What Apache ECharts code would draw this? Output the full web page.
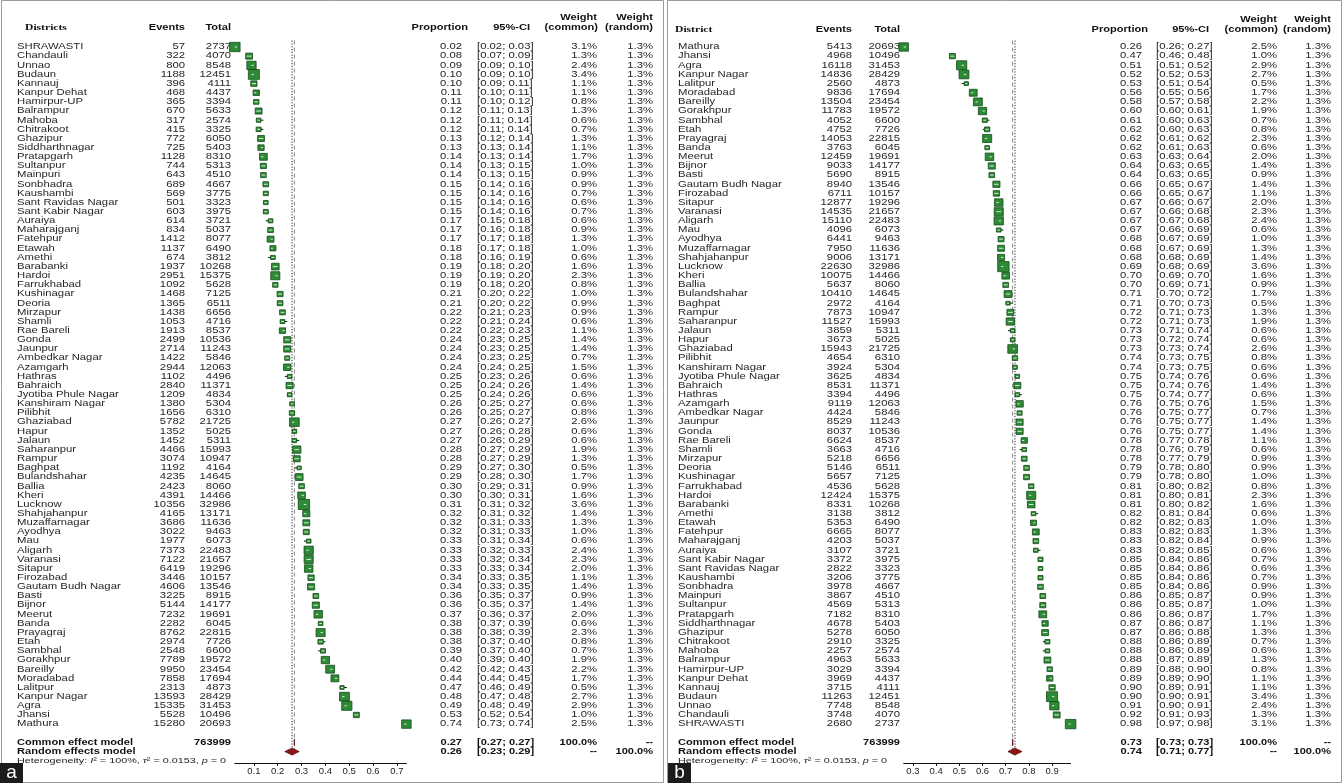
<!DOCTYPE html>
<html><head><meta charset="utf-8">
<script src="https://cdn.jsdelivr.net/npm/echarts@6.0.0/dist/echarts.min.js"></script>
<style>html,body{margin:0;padding:0;background:#fff}#c{width:1343px;height:783px}</style>
</head><body><div id="c"></div>
<script>
// ---------- Panel a data ----------
const leftDistricts = ["SHRAWASTI","Chandauli","Unnao","Budaun","Kannauj","Kanpur Dehat","Hamirpur-UP","Balrampur","Mahoba","Chitrakoot","Ghazipur","Siddharthnagar","Pratapgarh","Sultanpur","Mainpuri","Sonbhadra","Kaushambi","Sant Ravidas Nagar","Sant Kabir Nagar","Auraiya","Maharajganj","Fatehpur","Etawah","Amethi","Barabanki","Hardoi","Farrukhabad","Kushinagar","Deoria","Mirzapur","Shamli","Rae Bareli","Gonda","Jaunpur","Ambedkar Nagar","Azamgarh","Hathras","Bahraich","Jyotiba Phule Nagar","Kanshiram Nagar","Pilibhit","Ghaziabad","Hapur","Jalaun","Saharanpur","Rampur","Baghpat","Bulandshahar","Ballia","Kheri","Lucknow","Shahjahanpur","Muzaffarnagar","Ayodhya","Mau","Aligarh","Varanasi","Sitapur","Firozabad","Gautam Budh Nagar","Basti","Bijnor","Meerut","Banda","Prayagraj","Etah","Sambhal","Gorakhpur","Bareilly","Moradabad","Lalitpur","Kanpur Nagar","Agra","Jhansi","Mathura"];
const leftEvents = [57,322,800,1188,396,468,365,670,317,415,772,725,1128,744,643,689,569,501,603,614,834,1412,1137,674,1937,2951,1092,1468,1365,1438,1053,1913,2499,2714,1422,2944,1102,2840,1209,1380,1656,5782,1352,1452,4466,3074,1192,4235,2423,4391,10356,4165,3686,3022,1977,7373,7122,6419,3446,4606,3225,5144,7232,2282,8762,2974,2548,7789,9950,7858,2313,13593,15335,5528,15280];
const leftTotals = [2737,4070,8548,12451,4111,4437,3394,5633,2574,3325,6050,5403,8310,5313,4510,4667,3775,3323,3975,3721,5037,8077,6490,3812,10268,15375,5628,7125,6511,6656,4716,8537,10536,11243,5846,12063,4496,11371,4834,5304,6310,21725,5025,5311,15993,10947,4164,14645,8060,14466,32986,13171,11636,9463,6073,22483,21657,19296,10157,13546,8915,14177,19691,6045,22815,7726,6600,19572,23454,17694,4873,28429,31453,10496,20693];
const leftProp = [0.02,0.08,0.09,0.10,0.10,0.11,0.11,0.12,0.12,0.12,0.13,0.13,0.14,0.14,0.14,0.15,0.15,0.15,0.15,0.17,0.17,0.17,0.18,0.18,0.19,0.19,0.19,0.21,0.21,0.22,0.22,0.22,0.24,0.24,0.24,0.24,0.25,0.25,0.25,0.26,0.26,0.27,0.27,0.27,0.28,0.28,0.29,0.29,0.30,0.30,0.31,0.32,0.32,0.32,0.33,0.33,0.33,0.33,0.34,0.34,0.36,0.36,0.37,0.38,0.38,0.38,0.39,0.40,0.42,0.44,0.47,0.48,0.49,0.53,0.74];
const leftLo = [0.02,0.07,0.09,0.09,0.09,0.10,0.10,0.11,0.11,0.11,0.12,0.13,0.13,0.13,0.13,0.14,0.14,0.14,0.14,0.15,0.16,0.17,0.17,0.16,0.18,0.19,0.18,0.20,0.20,0.21,0.21,0.22,0.23,0.23,0.23,0.24,0.23,0.24,0.24,0.25,0.25,0.26,0.26,0.26,0.27,0.27,0.27,0.28,0.29,0.30,0.31,0.31,0.31,0.31,0.31,0.32,0.32,0.33,0.33,0.33,0.35,0.35,0.36,0.37,0.38,0.37,0.37,0.39,0.42,0.44,0.46,0.47,0.48,0.52,0.73];
const leftHi = [0.03,0.09,0.10,0.10,0.11,0.11,0.12,0.13,0.14,0.14,0.14,0.14,0.14,0.15,0.15,0.16,0.16,0.16,0.16,0.18,0.18,0.18,0.18,0.19,0.20,0.20,0.20,0.22,0.22,0.23,0.24,0.23,0.25,0.25,0.25,0.25,0.26,0.26,0.26,0.27,0.27,0.27,0.28,0.29,0.29,0.29,0.30,0.30,0.31,0.31,0.32,0.32,0.33,0.33,0.34,0.33,0.34,0.34,0.35,0.35,0.37,0.37,0.37,0.39,0.39,0.40,0.40,0.40,0.43,0.45,0.49,0.48,0.49,0.54,0.74];
const leftWCommon = [3.1,1.3,2.4,3.4,1.1,1.1,0.8,1.3,0.6,0.7,1.3,1.1,1.7,1.0,0.9,0.9,0.7,0.6,0.7,0.6,0.9,1.3,1.0,0.6,1.6,2.3,0.8,1.0,0.9,0.9,0.6,1.1,1.4,1.4,0.7,1.5,0.6,1.4,0.6,0.6,0.8,2.6,0.6,0.6,1.9,1.3,0.5,1.7,0.9,1.6,3.6,1.4,1.3,1.0,0.6,2.4,2.3,2.0,1.1,1.4,0.9,1.4,2.0,0.6,2.3,0.8,0.7,1.9,2.2,1.7,0.5,2.7,2.9,1.0,2.5];
const leftWRandom = [1.3,1.3,1.3,1.3,1.3,1.3,1.3,1.3,1.3,1.3,1.3,1.3,1.3,1.3,1.3,1.3,1.3,1.3,1.3,1.3,1.3,1.3,1.3,1.3,1.3,1.3,1.3,1.3,1.3,1.3,1.3,1.3,1.3,1.3,1.3,1.3,1.3,1.3,1.3,1.3,1.3,1.3,1.3,1.3,1.3,1.3,1.3,1.3,1.3,1.3,1.3,1.3,1.3,1.3,1.3,1.3,1.3,1.3,1.3,1.3,1.3,1.3,1.3,1.3,1.3,1.3,1.3,1.3,1.3,1.3,1.3,1.3,1.3,1.3,1.3];
const leftSummaryEst = [0.27, 0.26];
const leftSummaryLo = [0.27, 0.23];
const leftSummaryHi = [0.27, 0.29];
const leftTicks = [0.1, 0.2, 0.3, 0.4, 0.5, 0.6, 0.7];

// ---------- Panel b data ----------
const rightDistricts = ["Mathura","Jhansi","Agra","Kanpur Nagar","Lalitpur","Moradabad","Bareilly","Gorakhpur","Sambhal","Etah","Prayagraj","Banda","Meerut","Bijnor","Basti","Gautam Budh Nagar","Firozabad","Sitapur","Varanasi","Aligarh","Mau","Ayodhya","Muzaffarnagar","Shahjahanpur","Lucknow","Kheri","Ballia","Bulandshahar","Baghpat","Rampur","Saharanpur","Jalaun","Hapur","Ghaziabad","Pilibhit","Kanshiram Nagar","Jyotiba Phule Nagar","Bahraich","Hathras","Azamgarh","Ambedkar Nagar","Jaunpur","Gonda","Rae Bareli","Shamli","Mirzapur","Deoria","Kushinagar","Farrukhabad","Hardoi","Barabanki","Amethi","Etawah","Fatehpur","Maharajganj","Auraiya","Sant Kabir Nagar","Sant Ravidas Nagar","Kaushambi","Sonbhadra","Mainpuri","Sultanpur","Pratapgarh","Siddharthnagar","Ghazipur","Chitrakoot","Mahoba","Balrampur","Hamirpur-UP","Kanpur Dehat","Kannauj","Budaun","Unnao","Chandauli","SHRAWASTI"];
const rightEvents = [5413,4968,16118,14836,2560,9836,13504,11783,4052,4752,14053,3763,12459,9033,5690,8940,6711,12877,14535,15110,4096,6441,7950,9006,22630,10075,5637,10410,2972,7873,11527,3859,3673,15943,4654,3924,3625,8531,3394,9119,4424,8529,8037,6624,3663,5218,5146,5657,4536,12424,8331,3138,5353,6665,4203,3107,3372,2822,3206,3978,3867,4569,7182,4678,5278,2910,2257,4963,3029,3969,3715,11263,7748,3748,2680];
const rightTotals = [20693,10496,31453,28429,4873,17694,23454,19572,6600,7726,22815,6045,19691,14177,8915,13546,10157,19296,21657,22483,6073,9463,11636,13171,32986,14466,8060,14645,4164,10947,15993,5311,5025,21725,6310,5304,4834,11371,4496,12063,5846,11243,10536,8537,4716,6656,6511,7125,5628,15375,10268,3812,6490,8077,5037,3721,3975,3323,3775,4667,4510,5313,8310,5403,6050,3325,2574,5633,3394,4437,4111,12451,8548,4070,2737];
const rightProp = [0.26,0.47,0.51,0.52,0.53,0.56,0.58,0.60,0.61,0.62,0.62,0.62,0.63,0.64,0.64,0.66,0.66,0.67,0.67,0.67,0.67,0.68,0.68,0.68,0.69,0.70,0.70,0.71,0.71,0.72,0.72,0.73,0.73,0.73,0.74,0.74,0.75,0.75,0.75,0.76,0.76,0.76,0.76,0.78,0.78,0.78,0.79,0.79,0.81,0.81,0.81,0.82,0.82,0.83,0.83,0.83,0.85,0.85,0.85,0.85,0.86,0.86,0.86,0.87,0.87,0.88,0.88,0.88,0.89,0.89,0.90,0.90,0.91,0.92,0.98];
const rightLo = [0.26,0.46,0.51,0.52,0.51,0.55,0.57,0.60,0.60,0.60,0.61,0.61,0.63,0.63,0.63,0.65,0.65,0.66,0.66,0.67,0.66,0.67,0.67,0.68,0.68,0.69,0.69,0.70,0.70,0.71,0.71,0.71,0.72,0.73,0.73,0.73,0.74,0.74,0.74,0.75,0.75,0.75,0.75,0.77,0.76,0.77,0.78,0.78,0.80,0.80,0.80,0.81,0.82,0.82,0.82,0.82,0.84,0.84,0.84,0.84,0.85,0.85,0.86,0.86,0.86,0.86,0.86,0.87,0.88,0.89,0.89,0.90,0.90,0.91,0.97];
const rightHi = [0.27,0.48,0.52,0.53,0.54,0.56,0.58,0.61,0.63,0.63,0.62,0.63,0.64,0.65,0.65,0.67,0.67,0.67,0.68,0.68,0.69,0.69,0.69,0.69,0.69,0.70,0.71,0.72,0.73,0.73,0.73,0.74,0.74,0.74,0.75,0.75,0.76,0.76,0.77,0.76,0.77,0.77,0.77,0.78,0.79,0.79,0.80,0.80,0.82,0.81,0.82,0.84,0.83,0.83,0.84,0.85,0.86,0.86,0.86,0.86,0.87,0.87,0.87,0.87,0.88,0.89,0.89,0.89,0.90,0.90,0.91,0.91,0.91,0.93,0.98];
const rightWCommon = [2.5,1.0,2.9,2.7,0.5,1.7,2.2,1.9,0.7,0.8,2.3,0.6,2.0,1.4,0.9,1.4,1.1,2.0,2.3,2.4,0.6,1.0,1.3,1.4,3.6,1.6,0.9,1.7,0.5,1.3,1.9,0.6,0.6,2.6,0.8,0.6,0.6,1.4,0.6,1.5,0.7,1.4,1.4,1.1,0.6,0.9,0.9,1.0,0.8,2.3,1.6,0.6,1.0,1.3,0.9,0.6,0.7,0.6,0.7,0.9,0.9,1.0,1.7,1.1,1.3,0.7,0.6,1.3,0.8,1.1,1.1,3.4,2.4,1.3,3.1];
const rightWRandom = [1.3,1.3,1.3,1.3,1.3,1.3,1.3,1.3,1.3,1.3,1.3,1.3,1.3,1.3,1.3,1.3,1.3,1.3,1.3,1.3,1.3,1.3,1.3,1.3,1.3,1.3,1.3,1.3,1.3,1.3,1.3,1.3,1.3,1.3,1.3,1.3,1.3,1.3,1.3,1.3,1.3,1.3,1.3,1.3,1.3,1.3,1.3,1.3,1.3,1.3,1.3,1.3,1.3,1.3,1.3,1.3,1.3,1.3,1.3,1.3,1.3,1.3,1.3,1.3,1.3,1.3,1.3,1.3,1.3,1.3,1.3,1.3,1.3,1.3,1.3];
const rightSummaryEst = [0.73, 0.74];
const rightSummaryLo = [0.73, 0.71];
const rightSummaryHi = [0.73, 0.77];
const rightTicks = [0.3, 0.4, 0.5, 0.6, 0.7, 0.8, 0.9];

// ---------- shared ----------
const summaryLabels = ["Common effect model", "Random effects model"];
const summaryTotal = ["763999", ""];
const summaryWCommon = ["100.0%", "--"];
const summaryWRandom = ["--", "100.0%"];
const hetI2 = "100%", hetTau2 = "0.0153", hetP = "0";

// ---------- layout (pixels) ----------
const SX = 1.35;
const ROWFONT = 'normal 8.4px "Liberation Sans", Arial, sans-serif';
const BOLDFONT = 'bold 8.2px "Liberation Sans", Arial, sans-serif';
const SERIFBOLD = 'bold 8.6px "Liberation Serif", "Times New Roman", serif';
const ROW_TOP = 37.85, ROW_H = 9.15, Y_MIN = -1, Y_MAX = 78.25;

const panels = [
  { names: leftDistricts, events: leftEvents, totals: leftTotals, prop: leftProp, lo: leftLo, hi: leftHi,
    wc: leftWCommon, wr: leftWRandom, sEst: leftSummaryEst, sLo: leftSummaryLo, sHi: leftSummaryHi, ticks: leftTicks,
    min: 0.02, max: 0.74, gridLeft: 234.8, gridWidth: 171.6,
    x: { name: 17, ev: 185, tot: 231, prop: 462, ci: 477, wc: 597, wr: 653 },
    hdrY1: 17.5, hdrY2: 28, header: "Districts", headerX: 25, boxX: 0, boxLabel: "a" },
  { names: rightDistricts, events: rightEvents, totals: rightTotals, prop: rightProp, lo: rightLo, hi: rightHi,
    wc: rightWCommon, wr: rightWRandom, sEst: rightSummaryEst, sLo: rightSummaryLo, sHi: rightSummaryHi, ticks: rightTicks,
    min: 0.26, max: 0.98, gridLeft: 903.7, gridWidth: 166.9,
    x: { name: 678, ev: 852, tot: 900, prop: 1142, ci: 1156, wc: 1277, wr: 1331 },
    hdrY1: 20, hdrY2: 30, header: "District", headerX: 675, boxX: 668, boxLabel: "b" }
];

function T(x, y, text, align, font, fill) {
  return { type: 'text', x: x, y: y, scaleX: SX,
    style: { text: text, font: font || ROWFONT, fill: fill || '#262626', align: align, verticalAlign: 'middle' } };
}
function f2(v) { return v.toFixed(2); }
function ci(lo, hi) { return '[' + f2(lo) + '; ' + f2(hi) + ']'; }

function tableRender(P) {
  return function (params, api) {
    const i = params.dataIndex;
    const y = api.coord([P.min, api.value(1)])[1];
    return { type: 'group', children: [
      T(P.x.name, y, P.names[i], 'left'),
      T(P.x.ev, y, String(P.events[i]), 'right'),
      T(P.x.tot, y, String(P.totals[i]), 'right'),
      T(P.x.prop, y, f2(P.prop[i]), 'right'),
      T(P.x.ci, y, ci(P.lo[i], P.hi[i]), 'left'),
      T(P.x.wc, y, P.wc[i].toFixed(1) + '%', 'right'),
      T(P.x.wr, y, P.wr[i].toFixed(1) + '%', 'right')
    ] };
  };
}

function squareRender(P) {
  return function (params, api) {
    const i = params.dataIndex;
    const c = api.coord([api.value(0), api.value(1)]);
    const lo = api.coord([P.lo[i], api.value(1)]);
    const hi = api.coord([P.hi[i], api.value(1)]);
    const s = Math.sqrt(P.wc[i]);
    const sw = 6.0 * s, sh = 5.3 * s;
    const l = c[0] - sw / 2, r = c[0] + sw / 2;
    return { type: 'group', children: [
      { type: 'line', shape: { x1: lo[0], y1: c[1], x2: hi[0], y2: c[1] }, style: { stroke: '#111', lineWidth: 1 } },
      { type: 'rect', shape: { x: l, y: c[1] - sh / 2, width: sw, height: sh },
        style: { fill: '#2f8a35', stroke: '#114d18', lineWidth: 0.8 } },
      { type: 'line', shape: { x1: Math.max(lo[0], l + 1), y1: c[1], x2: Math.min(hi[0], r - 1), y2: c[1] },
        style: { stroke: '#e8f5e8', lineWidth: 0.9 } }
    ] };
  };
}

function summaryRender(P) {
  return function (params, api) {
    const k = params.dataIndex;
    const row = api.value(1);
    const c = api.coord([api.value(0), row]);
    const lo = api.coord([P.sLo[k], row]);
    const hi = api.coord([P.sHi[k], row]);
    const h = 3.4;
    const y = c[1];
    return { type: 'group', children: [
      { type: 'polygon', shape: { points: [[lo[0], y], [c[0], y - h], [hi[0], y], [c[0], y + h]] },
        style: { fill: '#8e1515', stroke: '#5c0505', lineWidth: 0.8 } },
      T(P.x.name, y, summaryLabels[k], 'left', BOLDFONT, '#111'),
      T(P.x.tot, y, summaryTotal[k], 'right', BOLDFONT, '#111'),
      T(P.x.prop, y, f2(P.sEst[k]), 'right', BOLDFONT, '#111'),
      T(P.x.ci, y, ci(P.sLo[k], P.sHi[k]), 'left', BOLDFONT, '#111'),
      T(P.x.wc, y, summaryWCommon[k], 'right', BOLDFONT, '#111'),
      T(P.x.wr, y, summaryWRandom[k], 'right', BOLDFONT, '#111')
    ] };
  };
}

const grids = [], xAxes = [], yAxes = [], series = [], graphics = [];
panels.forEach(function (P, k) {
  grids.push({ left: P.gridLeft, width: P.gridWidth, top: ROW_TOP, height: (Y_MAX - Y_MIN) * ROW_H,
    containLabel: false, outerBoundsMode: 'none' });
  xAxes.push({ gridIndex: k, type: 'value', min: P.min, max: P.max, position: 'bottom',
    axisLine: { show: true, onZero: false, lineStyle: { color: '#111', width: 1 } },
    axisTick: { show: true, length: 3, customValues: P.ticks, lineStyle: { color: '#111' } },
    axisLabel: { show: true, customValues: P.ticks, margin: 3, fontSize: 9.5, color: '#222',
      fontFamily: '"Liberation Sans", Arial, sans-serif', formatter: function (v) { return v.toFixed(1); } },
    splitLine: { show: false } });
  yAxes.push({ gridIndex: k, type: 'value', min: Y_MIN, max: Y_MAX, inverse: true, show: false });

  const rows = P.names.map(function (n, i) { return [P.min, i]; });
  series.push({ type: 'custom', name: 'table' + k, xAxisIndex: k, yAxisIndex: k, data: rows,
    encode: { x: 0, y: 1 }, renderItem: tableRender(P), clip: false, silent: true, z: 3 });
  // reference lines: common (dashed) and random (dotted)
  series.push({ type: 'line', xAxisIndex: k, yAxisIndex: k, symbol: 'none', silent: true, z: 1,
    data: [[P.sEst[0], -0.7], [P.sEst[0], 77.4]], lineStyle: { color: '#777', width: 0.9, type: [4, 3] } });
  series.push({ type: 'line', xAxisIndex: k, yAxisIndex: k, symbol: 'none', silent: true, z: 1,
    data: [[P.sEst[1], -0.7], [P.sEst[1], 77.4]], lineStyle: { color: '#222', width: 1, type: [1.2, 1.6] } });
  series.push({ type: 'custom', name: 'squares' + k, xAxisIndex: k, yAxisIndex: k,
    data: P.prop.map(function (p, i) { return [p, i]; }), encode: { x: 0, y: 1 },
    renderItem: squareRender(P), clip: false, silent: true, z: 4 });
  series.push({ type: 'custom', name: 'summary' + k, xAxisIndex: k, yAxisIndex: k,
    data: [[P.sEst[0], 76], [P.sEst[1], 77]], encode: { x: 0, y: 1 },
    renderItem: summaryRender(P), clip: false, silent: true, z: 4 });

  // headers
  const H = function (x, y, text, align, font) {
    return { type: 'text', x: x, y: y, scaleX: SX, z: 10,
      style: { text: text, font: font || BOLDFONT, fill: '#111', align: align, verticalAlign: 'middle' } };
  };
  graphics.push(H(P.headerX, P.hdrY2, P.header, 'left', SERIFBOLD));
  graphics.push(H(P.x.ev, P.hdrY2, 'Events', 'right'));
  graphics.push(H(P.x.tot, P.hdrY2, 'Total', 'right'));
  graphics.push(H(P.x.prop + 6, P.hdrY2, 'Proportion', 'right'));
  graphics.push(H(P.x.ci + 53, P.hdrY2, '95%-CI', 'right'));
  graphics.push(H(P.x.wc, P.hdrY1, 'Weight', 'right'));
  graphics.push(H(P.x.wc + 1, P.hdrY2, '(common)', 'right'));
  graphics.push(H(P.x.wr, P.hdrY1, 'Weight', 'right'));
  graphics.push(H(P.x.wr, P.hdrY2, '(random)', 'right'));
  // heterogeneity
  graphics.push({ type: 'text', x: P.x.name, y: ROW_TOP + (78 - Y_MIN) * ROW_H, scaleX: SX, z: 10,
    style: { text: '{n|Heterogeneity: }{i|I}{n|² = ' + hetI2 + ', }{i|τ}{n|² = ' + hetTau2 + ', }{i|p}{n| = ' + hetP + '}',
      verticalAlign: 'middle', align: 'left',
      rich: { n: { fontSize: 8, fontFamily: '"Liberation Sans", Arial, sans-serif', fill: '#222' },
              i: { fontSize: 8, fontStyle: 'italic', fontFamily: '"Liberation Sans", Arial, sans-serif', fill: '#222' } } } });
  // panel label box
  graphics.push({ type: 'rect', z: 20, shape: { x: P.boxX, y: 763, width: 23, height: 20 }, style: { fill: '#1c1c1c' } });
  graphics.push({ type: 'text', z: 21, x: P.boxX + 11.5, y: 772.5,
    style: { text: P.boxLabel, font: 'normal 19px "Liberation Sans", Arial, sans-serif', fill: '#fff', align: 'center', verticalAlign: 'middle' } });
});
// panel frames
graphics.push({ type: 'rect', z: 0, shape: { x: 1.5, y: 0.5, width: 662, height: 782 }, style: { fill: 'none', stroke: '#9a9a9a', lineWidth: 1 } });
graphics.push({ type: 'rect', z: 0, shape: { x: 667.5, y: 0.5, width: 674, height: 782 }, style: { fill: 'none', stroke: '#9a9a9a', lineWidth: 1 } });

const chart = echarts.init(document.getElementById('c'), null, { renderer: 'canvas' });
chart.setOption({
  animation: false,
  backgroundColor: '#ffffff',
  grid: grids, xAxis: xAxes, yAxis: yAxes,
  series: series,
  graphic: graphics
});
</script>
</body></html>
